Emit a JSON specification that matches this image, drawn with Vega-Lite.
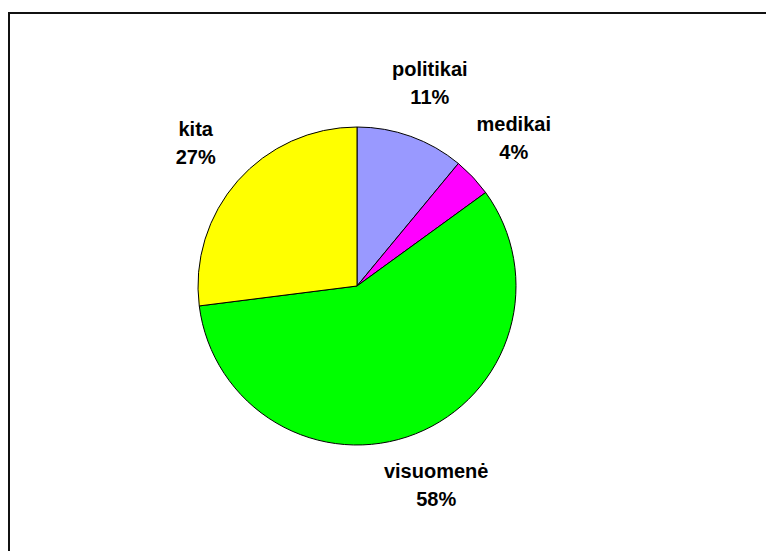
{
  "$schema": "https://vega.github.io/schema/vega-lite/v6.json",
  "width": 760,
  "height": 540,
  "autosize": {"type": "none"},
  "padding": {"left": 9, "top": 13, "right": 0, "bottom": 0},
  "background": "white",
  "config": {"view": {"stroke": null}},
  "data": {
    "values": [
      {"i": 1, "cat": "politikai", "pct": 11},
      {"i": 2, "cat": "medikai", "pct": 4},
      {"i": 3, "cat": "visuomenė", "pct": 58},
      {"i": 4, "cat": "kita", "pct": 27}
    ]
  },
  "transform": [{"calculate": "[datum.cat, datum.pct + '%']", "as": "label"}],
  "layer": [
    {
      "data": {"values": [{"frame": 1}]},
      "mark": {"type": "rect", "x": 0, "y": 0, "x2": "width", "y2": "height", "fill": null, "stroke": "#111111", "strokeWidth": 2},
      "encoding": {}
    },
    {
      "mark": {"type": "arc", "outerRadius": 159, "stroke": "#000000", "strokeWidth": 1, "x": 348, "y": 273},
      "encoding": {
        "theta": {"field": "pct", "type": "quantitative", "stack": true},
        "order": {"field": "i", "type": "quantitative"},
        "color": {
          "field": "cat",
          "type": "nominal",
          "scale": {"domain": ["politikai", "medikai", "visuomenė", "kita"], "range": ["#9999FF", "#FF00FF", "#00FF00", "#FFFF00"]},
          "legend": null
        }
      }
    },
    {
      "mark": {"type": "text", "radius": 215, "x": 348, "y": 273, "dy": -14, "font": "Liberation Sans", "fontWeight": "bold", "fontSize": 20, "letterSpacing": 0.8, "lineHeight": 28, "color": "#000000", "baseline": "middle", "align": "center"},
      "encoding": {
        "theta": {"field": "pct", "type": "quantitative", "stack": true},
        "order": {"field": "i", "type": "quantitative"},
        "text": {"field": "label", "type": "nominal"}
      }
    }
  ]
}
